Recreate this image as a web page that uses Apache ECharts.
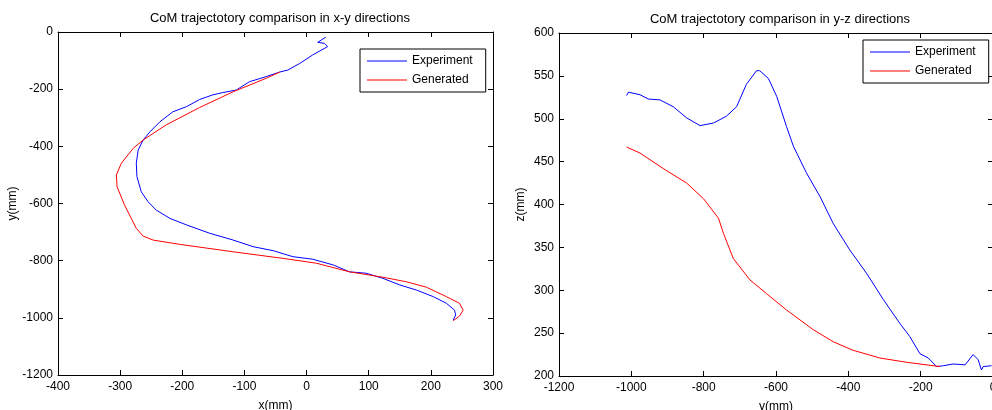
<!DOCTYPE html>
<html><head><meta charset="utf-8">
<script src="https://cdn.jsdelivr.net/npm/echarts@6/dist/echarts.min.js"></script>
<style>html,body{margin:0;padding:0;background:#fff}#c{width:992px;height:410px}</style>
</head><body><div id="c"></div>
<script>
var expXY_x = [31, 18, 29, 34, 10, -11, -30, -43, -65, -92, -113, -135, -151, -172, -193, -215, -236, -252, -263, -271, -274, -273, -266, -255, -242, -220, -193, -156, -118, -86, -54, -22, 10, 43, 69, 96, 123, 150, 177, 204, 225, 238, 240, 236];
var expXY_y = [-18, -36, -40, -51, -80, -110, -133, -140, -156, -174, -203, -212, -220, -236, -261, -279, -314, -349, -378, -413, -459, -506, -559, -594, -623, -652, -675, -704, -728, -751, -765, -786, -795, -815, -839, -844, -862, -885, -903, -926, -949, -973, -990, -1008];
var genXY_x = [-43, -65, -118, -172, -226, -263, -279, -298, -306, -305, -293, -274, -263, -247, -204, -118, -38, 16, 69, 123, 161, 193, 225, 246, 252, 246, 236];
var genXY_y = [-140, -162, -209, -264, -325, -378, -407, -459, -500, -541, -605, -687, -714, -728, -743, -769, -792, -809, -839, -858, -874, -893, -926, -949, -973, -994, -1010];
var expYZ_y = [-1013, -1008, -976, -953, -921, -884, -847, -810, -773, -737, -709, -682, -654, -645, -621, -598, -571, -552, -516, -478, -442, -396, -350, -303, -257, -230, -202, -179, -156, -137, -110, -77, -55, -41, -32, -27, -4];
var expYZ_z = [527, 531, 528, 523, 522, 514, 501, 492, 495, 503, 514, 540, 556, 556, 547, 526, 491, 468, 437, 409, 378, 347, 320, 289, 261, 246, 226, 221, 211, 212, 214, 213, 225, 219, 207, 211, 212];
var genYZ_y = [-1013, -976, -912, -847, -801, -759, -745, -718, -672, -626, -571, -497, -442, -387, -313, -239, -147];
var genYZ_z = [467, 460, 442, 425, 407, 384, 366, 337, 312, 296, 277, 254, 240, 230, 221, 216, 211];
var seriesNames = ['Experiment', 'Generated'];
var titles = ['CoM trajectotory comparison in x-y directions', 'CoM trajectotory comparison in y-z directions'];

function pairs(a, b) { return a.map(function (v, i) { return [v, b[i]]; }); }
var FONT = 'Liberation Sans, Arial, sans-serif';
function mainAxis(gi, min, max, interval, name, pos, nameGap, margin) {
  return {
    type: 'value', gridIndex: gi, min: min, max: max, interval: interval, position: pos,
    name: name, nameLocation: 'middle', nameGap: nameGap,
    nameTextStyle: { color: '#000', fontSize: 12, fontFamily: FONT },
    axisLine: { show: true, onZero: false, lineStyle: { color: '#000', width: 1 } },
    axisTick: { show: true, inside: true, length: 5, lineStyle: { color: '#000' } },
    axisLabel: { color: '#000', fontSize: 12, fontFamily: FONT, margin: margin,
      formatter: function (v) { return String(v); } },
    splitLine: { show: false }
  };
}
function sideAxis(gi, min, max, interval, pos) {
  return {
    type: 'value', gridIndex: gi, min: min, max: max, interval: interval, position: pos,
    axisLine: { show: true, onZero: false, lineStyle: { color: '#000', width: 1 } },
    axisTick: { show: true, inside: true, length: 5, lineStyle: { color: '#000' } },
    axisLabel: { show: false }, splitLine: { show: false }
  };
}
function legend(left, top) {
  return {
    orient: 'vertical', left: left, top: top, data: seriesNames,
    icon: 'rect', itemWidth: 40, itemHeight: 1, itemGap: 5,
    borderColor: '#000', borderWidth: 1, backgroundColor: '#fff',
    padding: [5, 13, 5, 7],
    textStyle: { color: '#000', fontSize: 12, fontFamily: FONT, lineHeight: 14, padding: [0, 0, 0, 0] },
    selectedMode: false
  };
}
function line(name, color, xi, yi, data) {
  return { type: 'line', name: name, xAxisIndex: xi, yAxisIndex: yi, data: data,
    symbol: 'none', lineStyle: { color: color, width: 1 }, itemStyle: { color: color },
    animation: false, clip: true };
}
var chart = echarts.init(document.getElementById('c'));
chart.setOption({
  animation: false,
  title: [
    { text: titles[0], left: 275, top: 7, textAlign: 'center', textStyle: { fontSize: 13, fontWeight: 'normal', color: '#000', fontFamily: FONT } },
    { text: titles[1], left: 775, top: 8, textAlign: 'center', textStyle: { fontSize: 13, fontWeight: 'normal', color: '#000', fontFamily: FONT } }
  ],
  legend: [legend(360, 49), legend(863, 40)],
  grid: [
    { left: 58, top: 32, width: 435, height: 343, outerBoundsMode: 'none', containLabel: false },
    { left: 559, top: 33, width: 434, height: 343, outerBoundsMode: 'none', containLabel: false }
  ],
  xAxis: [
    mainAxis(0, -400, 300, 100, 'x(mm)', 'bottom', 25, 6),
    sideAxis(0, -400, 300, 100, 'top'),
    mainAxis(1, -1200, 0, 200, 'y(mm)', 'bottom', 25, 6),
    sideAxis(1, -1200, 0, 200, 'top')
  ],
  yAxis: [
    mainAxis(0, -1200, 0, 200, 'y(mm)', 'left', 31, 5),
    sideAxis(0, -1200, 0, 200, 'right'),
    mainAxis(1, 200, 600, 50, 'z(mm)', 'left', 32, 5),
    sideAxis(1, 200, 600, 50, 'right')
  ],
  series: [
    line(seriesNames[0], '#0000ff', 0, 0, pairs(expXY_x, expXY_y)),
    line(seriesNames[1], '#ff0000', 0, 0, pairs(genXY_x, genXY_y)),
    line(seriesNames[0], '#0000ff', 2, 2, pairs(expYZ_y, expYZ_z)),
    line(seriesNames[1], '#ff0000', 2, 2, pairs(genYZ_y, genYZ_z))
  ]
});
</script></body></html>
